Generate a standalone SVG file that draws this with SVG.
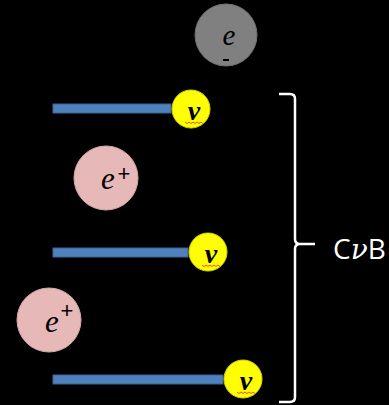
<svg xmlns="http://www.w3.org/2000/svg" width="389" height="405" viewBox="0 0 389 405">
<style>
.bar{fill:#4F81BD;stroke:#3A6595;stroke-width:1}
.nu{fill:#FFFF00;stroke:#D8D800;stroke-width:1}
.pos{fill:#E6B9B8;stroke:#D6A9A8;stroke-width:1}
.it{font-family:"Liberation Serif","DejaVu Serif",serif;font-style:italic;fill:#000}
.nut{font-family:"Liberation Serif","DejaVu Serif",serif;font-style:italic;font-weight:bold;font-size:28px;fill:#000;text-anchor:middle}
.sq{fill:none;stroke:#E8501E;stroke-width:1}
</style>
<rect width="389" height="405" fill="#000"/>
<g id="electron">
<circle cx="226" cy="35" r="31" fill="#808080" stroke="#707070"/>
<text class="it" x="229" y="45" font-size="29" text-anchor="middle">e</text>
<rect x="223" y="59" width="6" height="2" fill="#000"/>
</g>
<g id="neutrino1">
<rect class="bar" x="53" y="104" width="118" height="9"/>
<circle class="nu" cx="191" cy="109" r="19"/>
<text class="nut" x="194" y="120">ν</text>
<path class="sq" d="M185,122 l2,1.5 l2,-1.5 l2,1.5 l2,-1.5 l2,1.5 l2,-1.5 l2,1.5 l2,-1.5 l2,1.5"/>
</g>
<g id="positron1">
<circle class="pos" cx="106" cy="178" r="32"/>
<text class="it" x="108" y="189" font-size="31" text-anchor="middle">e</text>
<text x="124" y="181" font-family="Liberation Sans, sans-serif" font-size="22" text-anchor="middle" fill="#000">+</text>
</g>
<g id="neutrino2">
<rect class="bar" x="53" y="248" width="135" height="9"/>
<circle class="nu" cx="208" cy="252" r="19"/>
<text class="nut" x="211" y="263">ν</text>
<path class="sq" d="M202,265 l2,1.5 l2,-1.5 l2,1.5 l2,-1.5 l2,1.5 l2,-1.5 l2,1.5 l2,-1.5 l2,1.5"/>
</g>
<g id="positron2">
<circle class="pos" cx="49" cy="320" r="32"/>
<text class="it" x="52" y="332" font-size="31" text-anchor="middle">e</text>
<text x="67" y="318" font-family="Liberation Sans, sans-serif" font-size="22" text-anchor="middle" fill="#000">+</text>
</g>
<g id="neutrino3">
<rect class="bar" x="53" y="375" width="170" height="9"/>
<circle class="nu" cx="243" cy="379" r="19"/>
<text class="nut" x="246" y="390">ν</text>
<path class="sq" d="M237,392 l2,1.5 l2,-1.5 l2,1.5 l2,-1.5 l2,1.5 l2,-1.5 l2,1.5 l2,-1.5 l2,1.5"/>
</g>
<g id="brace">
<path d="M279,94 H290 Q295,94 295,99 V239 Q295,244 300,244 H315 M300,244 Q295,244 295,249 V397 Q295,402 290,402 H279" fill="none" stroke="#fff" stroke-width="2.5"/>
<text x="333" y="259" font-family="Open Sans, sans-serif" font-size="28" fill="#fff">C<tspan font-family="DejaVu Serif, serif" font-style="italic">ν</tspan>B</text>
</g>
</svg>
